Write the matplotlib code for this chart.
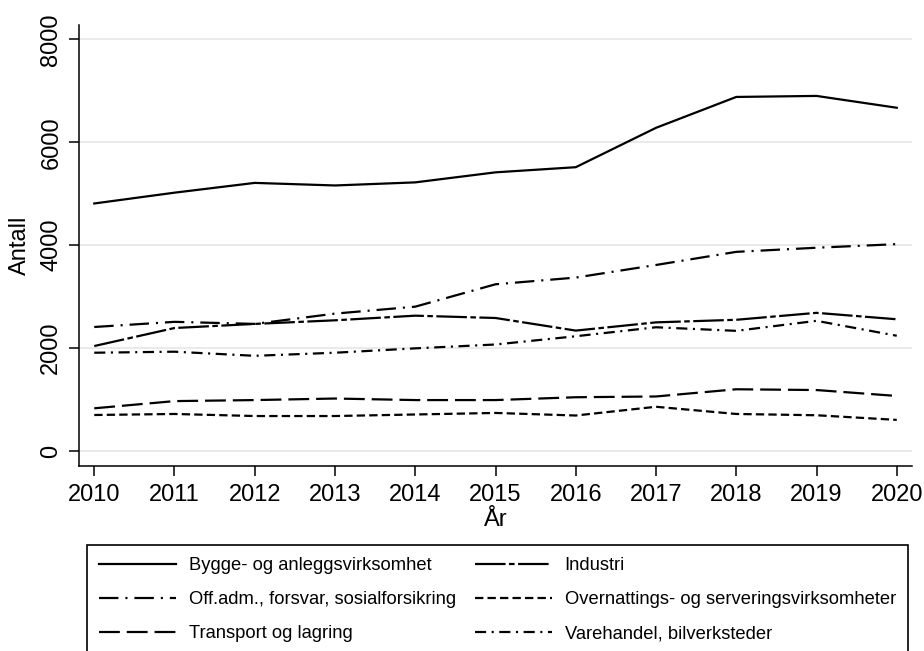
import numpy as np
import matplotlib
matplotlib.use("Agg")
import matplotlib.pyplot as plt

years = [2010, 2011, 2012, 2013, 2014, 2015, 2016, 2017, 2018, 2019, 2020]

bygge = [4810, 5020, 5210, 5160, 5220, 5415, 5515, 6280, 6880, 6900, 6670]
industri = [2040, 2390, 2470, 2540, 2630, 2585, 2340, 2500, 2550, 2685, 2560]
offadm = [2410, 2510, 2470, 2670, 2805, 3240, 3370, 3615, 3870, 3950, 4020]
overnatt = [700, 720, 680, 680, 710, 740, 690, 860, 720, 695, 605]
transport = [830, 970, 990, 1020, 990, 990, 1045, 1060, 1200, 1185, 1070]
varehandel = [1910, 1930, 1850, 1910, 1995, 2070, 2230, 2405, 2335, 2530, 2240]

labels = ["Bygge- og anleggsvirksomhet", "Industri",
          "Off.adm., forsvar, sosialforsikring", "Overnattings- og serveringsvirksomheter",
          "Transport og lagring", "Varehandel, bilverksteder"]

plt.rcParams['font.family'] = ['Liberation Sans', 'DejaVu Sans']
plt.rcParams['lines.scale_dashes'] = False

fig = plt.figure(figsize=(9.24, 6.51), dpi=100)
ax = fig.add_axes([79 / 924, 1 - 466 / 651, 833 / 924, 441 / 651])

lw = 1.6
# dash patterns in points
styles = [
    (bygge, '-'),
    (industri, (0, (22, 2.5, 4, 2.5))),
    (offadm, (0, (14, 5, 1.5, 5))),
    (overnatt, (0, (6, 3))),
    (transport, (0, (15, 5))),
    (varehandel, (0, (8, 4, 1.5, 4))),
]
handles = []
for (vals, ls), lab in zip(styles, labels):
    h, = ax.plot(years, vals, color='black', linestyle=ls, linewidth=lw, label=lab)
    handles.append(h)

ax.set_xlim(2009.81, 2020.19)
ax.set_ylim(-291, 8278)
ax.set_xticks(years)
ax.set_yticks([0, 2000, 4000, 6000, 8000])
ax.yaxis.grid(True, color='#e6e6e6', linewidth=1.2)
ax.set_axisbelow(True)
for s in ['top', 'right']:
    ax.spines[s].set_visible(False)
for s in ['left', 'bottom']:
    ax.spines[s].set_linewidth(1.1)
ax.tick_params(axis='both', direction='out', length=7, width=1.1, labelsize=17)
ax.tick_params(axis='x', pad=6)
ax.tick_params(axis='y', pad=5)
for t in ax.get_yticklabels():
    t.set_rotation(90)
    t.set_va('center')

ax.set_ylabel("Antall", fontsize=17)
ax.yaxis.set_label_coords(-48 / 833, 0.5)
ax.set_xlabel("År", fontsize=17)
ax.xaxis.set_label_coords(0.5, -(509 - 466) / 441)

# legend fills row by row in the reference
order = [0, 2, 4, 1, 3, 5]
leg = fig.legend(handles=[handles[i] for i in order], labels=[labels[i] for i in order],
                 ncol=2, loc='upper left',
                 bbox_to_anchor=(87 / 924, 1 - 545 / 651), borderaxespad=0,
                 fontsize=13.2, handlelength=4.2, handletextpad=0.7,
                 columnspacing=1.0, labelspacing=0.92, borderpad=0.68,
                 fancybox=False, edgecolor='black', framealpha=1)
leg.get_frame().set_linewidth(1.2)

fig.savefig("out.png", dpi=100)
